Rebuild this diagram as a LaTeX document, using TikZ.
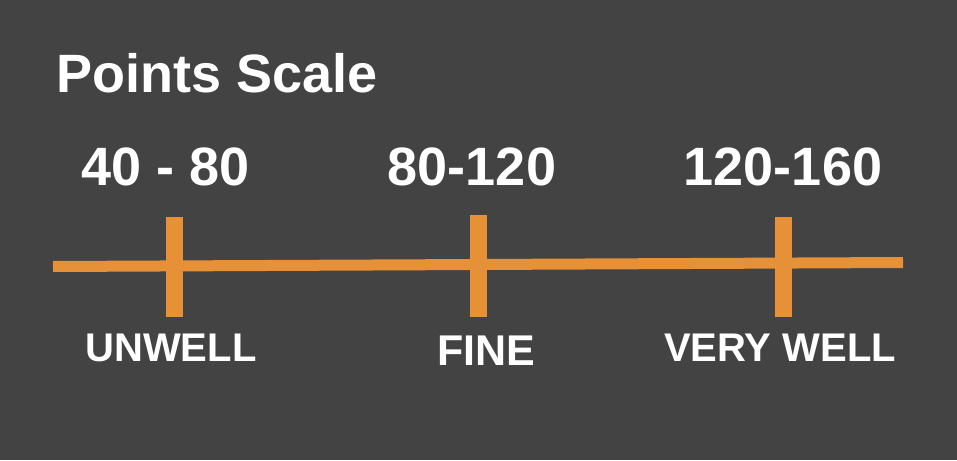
\documentclass[tikz,border=0pt]{standalone}
\usepackage{xcolor}
\usepackage{fontspec}
\setmainfont{Liberation Sans}
\usepackage{tikz}
\usetikzlibrary{positioning}
\definecolor{darkbg}{HTML}{434343}
\definecolor{scaleorange}{HTML}{E69138}

\begin{document}
\begin{tikzpicture}[x=1pt, y=-1pt,
    rangelabel/.style={text=white, font=\bfseries\fontsize{54}{60}\selectfont, anchor=base, inner sep=0pt},
    moodlabel/.style={text=white, font=\bfseries\fontsize{40}{46}\selectfont, anchor=base, inner sep=0pt},
    tickmark/.style={draw=scaleorange, line width=17pt}]
    \fill[darkbg] (0,0) rectangle (957,460);
    \useasboundingbox (0,0) rectangle (957,460);

    % title and ranges
    \node[text=white, font=\bfseries\fontsize{54}{60}\selectfont, anchor=base west, inner sep=0pt]
      (title) at (56,92) {Points Scale};
    \node[rangelabel] (low) at (166,185) {40 - 80};
    \node[rangelabel] (mid) at (472,185) {80-120};
    \node[rangelabel] (high) at (783,185) {120-160};

    % the scale
    \coordinate (start) at (53,266.5);
    \coordinate (end) at (903,262.5);
    \draw[scaleorange, line width=11pt] (start) -- (end);
    \coordinate (t1top) at (174,217);  \coordinate (t1bot) at (174,317);
    \coordinate (t2top) at (478,215);  \coordinate (t2bot) at (478,317);
    \coordinate (t3top) at (783,217);  \coordinate (t3bot) at (783,317);
    \draw[tickmark] (t1top) -- (t1bot);
    \draw[tickmark] (t2top) -- (t2bot);
    \draw[tickmark] (t3top) -- (t3bot);

    % labels
    \node[moodlabel] (unwell) at (171,361) {UNWELL};
    \node[moodlabel, font=\bfseries\fontsize{43}{49}\selectfont] (fine) at (486,365) {FINE};
    \node[moodlabel] (verywell) at (780,361) {VERY WELL};
\end{tikzpicture}
\end{document}
